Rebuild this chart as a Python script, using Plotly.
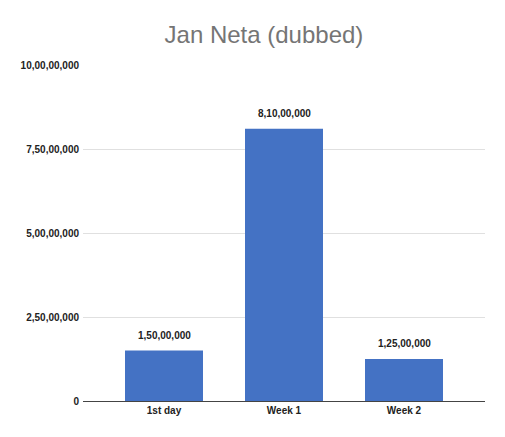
import plotly.graph_objects as go

categories = ["1st day", "Week 1", "Week 2"]
values = [15000000, 81000000, 12500000]
value_labels = ["1,50,00,000", "8,10,00,000", "1,25,00,000"]
tick_values = [0, 25000000, 50000000, 75000000, 100000000]
tick_labels = ["0", "2,50,00,000", "5,00,00,000", "7,50,00,000", "10,00,00,000"]

fig = go.Figure()
fig.add_trace(go.Bar(
    x=categories, y=values,
    marker=dict(color="#4472C4", line=dict(width=0)),
    hoverinfo="skip",
))

for c, v, t in zip(categories, values, value_labels):
    fig.add_annotation(x=c, y=v, text="<b>" + t + "</b>", showarrow=False,
                       yanchor="bottom", yshift=8,
                       font=dict(family="Arial, Liberation Sans", size=10, color="#222222"))

fig.update_layout(
    width=497, height=429,
    margin=dict(l=75, r=20, t=57, b=36),
    paper_bgcolor="white", plot_bgcolor="white",
    bargap=0.35,
    showlegend=False,
    title=dict(text="Jan Neta (dubbed)", x=0.515, xanchor="center", y=0.937, yanchor="middle",
               font=dict(family="Arial, Liberation Sans", size=24, color="#757575")),
    font=dict(family="Arial, Liberation Sans", size=10, color="#222222"),
)
fig.update_yaxes(
    range=[0, 100000000], tickvals=tick_values,
    ticktext=["<b>" + s + "</b>" for s in tick_labels],
    showgrid=True, gridcolor="#e0e0e0", gridwidth=1,
    zeroline=True, zerolinecolor="#444444", zerolinewidth=1,
    ticks="", ticklabelstandoff=3, showline=False,
    tickfont=dict(family="Arial, Liberation Sans", size=10, color="#222222"),
)
fig.update_xaxes(
    range=[-0.675, 2.675],
    tickvals=categories, ticktext=["<b>" + c + "</b>" for c in categories],
    showline=False, ticks="", ticklabelstandoff=2,
    tickfont=dict(family="Arial, Liberation Sans", size=10, color="#222222"),
)

fig.write_html("out.html")
